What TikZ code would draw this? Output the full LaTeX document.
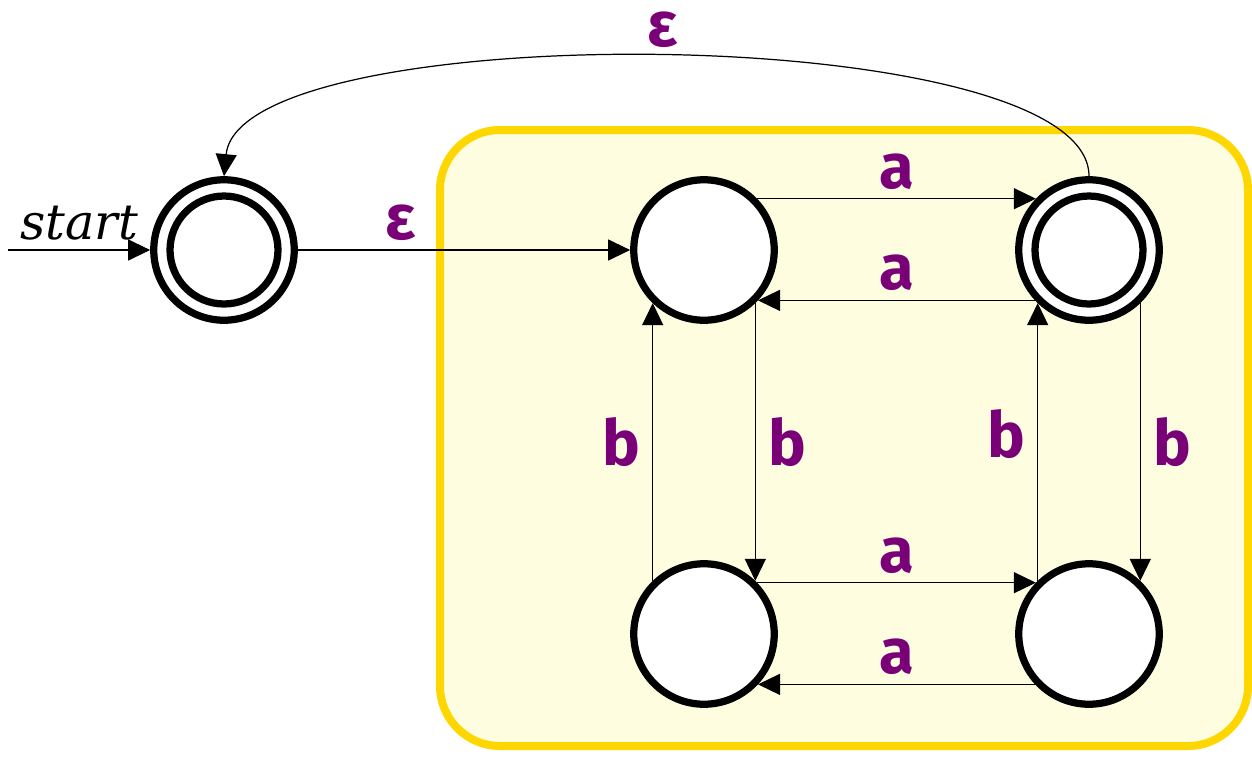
\documentclass[tikz,border=0pt]{standalone}
\usepackage{fontspec}
\setsansfont{Fira Sans}
\newfontfamily\startfont{DejaVu Serif}
\usetikzlibrary{arrows.meta}
\definecolor{boxfill}{RGB}{254,253,224}
\definecolor{boxline}{RGB}{255,215,0}
\definecolor{lblpurple}{RGB}{122,0,120}
\tikzset{
    state/.style={circle, draw, fill=white, line width=0.145cm, minimum size=2.81cm, inner sep=0pt},
    accepting/.style={path picture={\draw[line width=0.145cm] (path picture bounding box.center) circle (1.08cm);}},
    lbl/.style={text=lblpurple, font=\sffamily\bfseries\fontsize{36}{40}\selectfont, inner sep=5pt},
    trans/.style={-{Triangle[length=0.44cm,width=0.42cm]}, line width=0.7pt}
}
\begin{document}
\begin{tikzpicture}[x=0.02cm, y=-0.02cm]
    \useasboundingbox (0,0) rectangle (1252,758);

    %box
    \draw[line width=0.16cm, draw=boxline, fill=boxfill, rounded corners=1.2cm] (440,130) rectangle (1248,746);

    %states
    \node[state, accepting] (q0) at (224,250) {};
    \node[state] (q1) at (704,250) {};
    \node[state, accepting] (q2) at (1089,250) {};
    \node[state] (q3) at (704,634) {};
    \node[state] (q4) at (1089,634) {};
    \coordinate (s) at (8,250);

    %start
    \draw[trans] (s) -- node[above, inner sep=5pt, font=\startfont\itshape\fontsize{28}{32}\selectfont] {start} (q0);

    %epsilon
    \draw[trans] (q0) -- node[lbl, above, pos=0.31] {ε} (q1);
    \draw[trans] (q2.north) .. controls (1089,20) and (240,15) .. node[lbl, above] {ε} (q0.north);

    %a
    \draw[trans] (q1.44) -- node[lbl, above] {a} (q2.136);
    \draw[trans] (q2.223) -- node[lbl, above] {a} (q1.-43);
    \draw[trans] (q3.44) -- node[lbl, above] {a} (q4.136);
    \draw[trans] (q4.223) -- node[lbl, above] {a} (q3.-43);

    %b
    \draw[trans] (q1.-46) -- node[lbl, right, inner sep=7pt] {b} (q3.46);
    \draw[trans] (q3.134) -- node[lbl, left, inner sep=7pt] {b} (q1.226);
    \draw[trans] (q2.-46) -- node[lbl, right, inner sep=7pt] {b} (q4.46);
    \draw[trans] (q4.134) -- node[lbl, left, inner sep=7pt, pos=0.53] {b} (q2.226);
\end{tikzpicture}
\end{document}
